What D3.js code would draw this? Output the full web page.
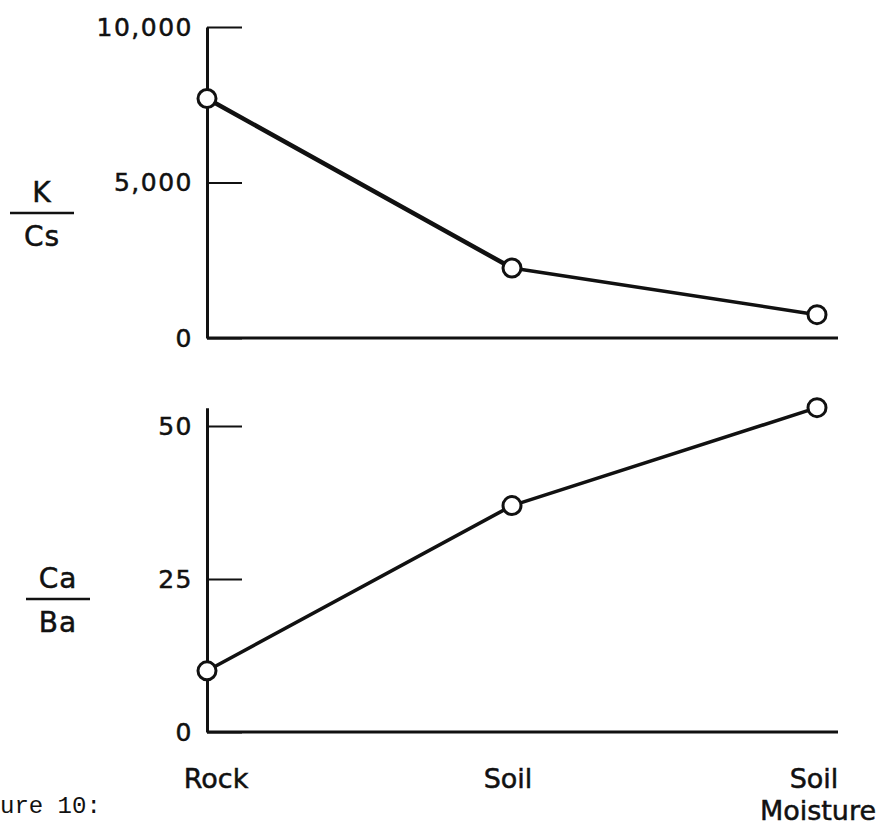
<!DOCTYPE html>
<html>
<head>
<meta charset="utf-8">
<script src="https://cdn.jsdelivr.net/npm/d3@7"></script>
<style>
  html, body { margin: 0; padding: 0; background: #fff; }
  svg { display: block; }
  .tick text { font-family: "DejaVu Sans", sans-serif; font-size: 25px; letter-spacing: 1.5px; fill: #111; stroke: #111; stroke-width: 0.5px; }
  .lbl { font-family: "DejaVu Sans", sans-serif; fill: #111; stroke: #111; stroke-width: 0.5px; }
</style>
</head>
<body>
<svg id="chart" width="886" height="825"></svg>
<script>
// Sample sources along the x axis
const categories = ["Rock", "Soil", "Soil Moisture"];
const categoryLines = [["Rock"], ["Soil"], ["Soil", "Moisture"]];

// Upper panel: K / Cs ratio
const kcsValues = [7700, 2250, 750];
const kcsTicks = [0, 5000, 10000];
const kcsTickLabels = ["0", "5,000", "10,000"];

// Lower panel: Ca / Ba ratio
const cabaValues = [10, 37, 53];
const cabaTicks = [0, 25, 50];
const cabaTickLabels = ["0", "25", "50"];

const svg = d3.select("#chart");
const ink = "#111";

const x = d3.scalePoint().domain(categories).range([207, 817]);
const xAxisEnd = 838;

function panel(values, ticks, tickLabels, yScale, numer, denom, fracX, fracY, lineWidth) {
  const g = svg.append("g");
  const axis = d3.axisLeft(yScale)
    .tickValues(ticks)
    .tickFormat((d, i) => tickLabels[i])
    .tickSizeInner(-35)
    .tickSizeOuter(0)
    .tickPadding(14);
  const ag = g.append("g").attr("transform", `translate(${x.range()[0]},0)`).call(axis);
  ag.select(".domain").attr("stroke", ink).attr("stroke-width", 3);
  ag.selectAll(".tick line").attr("stroke", ink).attr("stroke-width", 2);

  // baseline (x axis)
  g.append("line")
    .attr("x1", x.range()[0]).attr("x2", xAxisEnd)
    .attr("y1", yScale(0)).attr("y2", yScale(0))
    .attr("stroke", ink).attr("stroke-width", 3);

  const pts = categories.map((c, i) => [x(c), yScale(values[i])]);
  for (let i = 0; i < pts.length - 1; i++) {
    g.append("line")
      .attr("x1", pts[i][0]).attr("y1", pts[i][1])
      .attr("x2", pts[i + 1][0]).attr("y2", pts[i + 1][1])
      .attr("stroke", ink).attr("stroke-width", lineWidth[i])
      .attr("stroke-linecap", "round");
  }
  g.selectAll("circle").data(pts).join("circle")
    .attr("cx", d => d[0]).attr("cy", d => d[1]).attr("r", 9)
    .attr("fill", "#fff").attr("stroke", ink).attr("stroke-width", 3);

  // ratio label drawn as a fraction
  g.append("text").attr("class", "lbl").attr("x", fracX).attr("y", fracY - 11)
    .attr("text-anchor", "middle").attr("font-size", 28).attr("letter-spacing", 1)
    .text(numer);
  g.append("line")
    .attr("x1", fracX - 32).attr("x2", fracX + 32)
    .attr("y1", fracY).attr("y2", fracY)
    .attr("stroke", ink).attr("stroke-width", 2.5);
  g.append("text").attr("class", "lbl").attr("x", fracX).attr("y", fracY + 33)
    .attr("text-anchor", "middle").attr("font-size", 28).attr("letter-spacing", 1)
    .text(denom);
}

const yTop = d3.scaleLinear().domain([0, 10000]).range([338, 27]);
const yBot = d3.scaleLinear().domain([0, 53]).range([732, 732 - 53 * 6.12]);

panel(kcsValues, kcsTicks, kcsTickLabels, yTop, "K", "Cs", 42, 213, [4.5, 3.5]);
panel(cabaValues, cabaTicks, cabaTickLabels, yBot, "Ca", "Ba", 58, 599, [3.5, 3.5]);

// category labels under the lower panel
const labelOffsets = [9, -4, -3];
categories.forEach((c, i) => {
  const t = svg.append("text").attr("class", "lbl")
    .attr("x", x(c) + labelOffsets[i]).attr("y", 788)
    .attr("text-anchor", "middle").attr("font-size", 27);
  categoryLines[i].forEach((ln, j) => {
    t.append("tspan").attr("x", x(c) + labelOffsets[i] + (j ? 4 : 0)).attr("dy", j ? 32 : 0).text(ln);
  });
});

// figure caption at the bottom-left corner
svg.append("text")
  .attr("x", 0).attr("y", 813)
  .attr("font-family", "'Liberation Mono', monospace")
  .attr("font-size", 24).attr("fill", ink)
  .text("ure 10:");
</script>
</body>
</html>
